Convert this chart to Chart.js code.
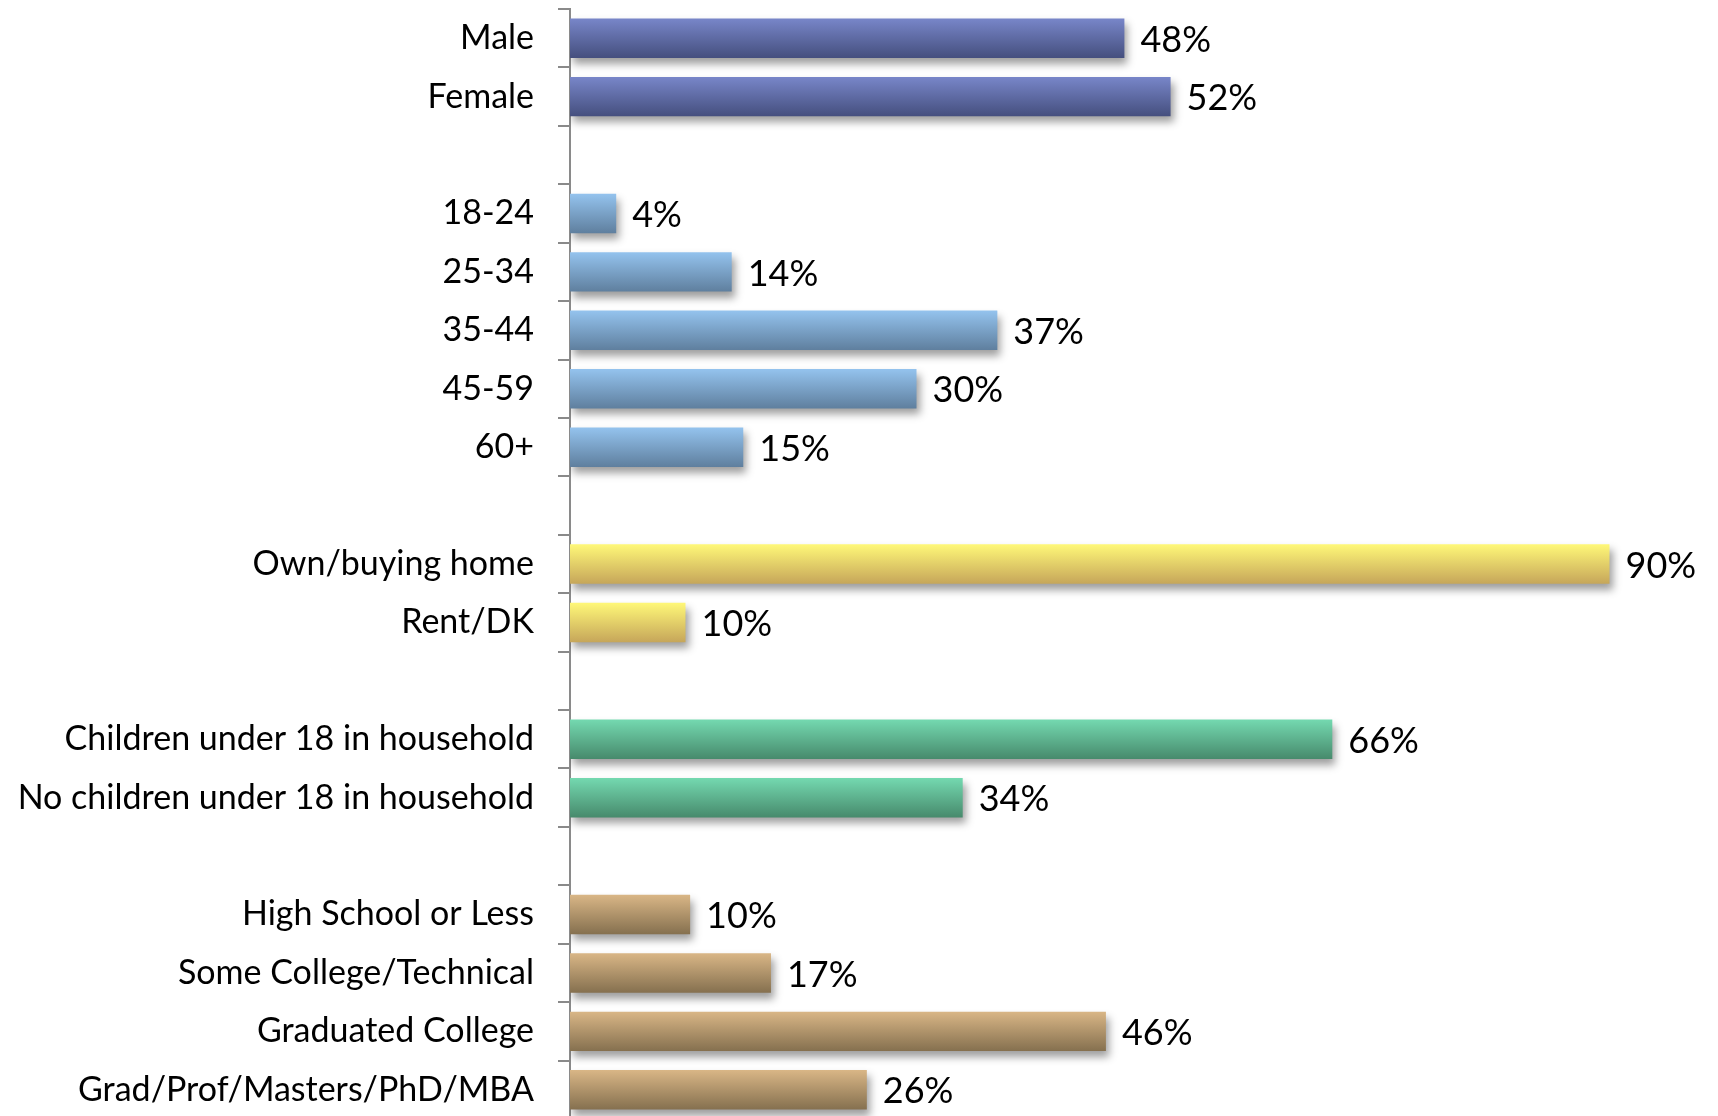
<!DOCTYPE html>
<html>
<head>
<meta charset="utf-8">
<script src="https://cdn.jsdelivr.net/npm/chart.js@4/dist/chart.umd.min.js"></script>
<style>
  html, body { margin: 0; padding: 0; background: #fff; overflow: hidden; }
  #wrap { width: 1726px; height: 1122px; position: relative; }
</style>
</head>
<body>
<div id="wrap"><canvas id="myChart"></canvas></div>
<script>
// data, one small array per group
var genderLabels = ["Male", "Female"];
var genderValues = [48, 52];
var ageLabels = ["18-24", "25-34", "35-44", "45-59", "60+"];
var ageValues = [4, 14, 37, 30, 15];
var homeLabels = ["Own/buying home", "Rent/DK"];
var homeValues = [90, 10];
var kidsLabels = ["Children under 18 in household", "No children under 18 in household"];
var kidsValues = [66, 34];
var eduLabels = ["High School or Less", "Some College/Technical", "Graduated College", "Grad/Prof/Masters/PhD/MBA"];
var eduValues = [10.4, 17.4, 46.4, 25.7];  // bar lengths, labels show rounded

// top / bottom of the gradient for each group
var groupColors = [
  ["#7886c9", "#454f7e"],
  ["#94c3ee", "#5f7f9e"],
  ["#fff878", "#c6a65a"],
  ["#74d9b0", "#478a6c"],
  ["#d9b686", "#85704f"]
];

var barPct = 0.675;

// join the groups, with an empty row between them
var groups = [
  [genderLabels, genderValues],
  [ageLabels, ageValues],
  [homeLabels, homeValues],
  [kidsLabels, kidsValues],
  [eduLabels, eduValues]
];
var categories = [];
var values = [];
var colorIdx = [];
groups.forEach(function (g, gi) {
  if (gi > 0) { categories.push(""); values.push(null); colorIdx.push(null); }
  for (var i = 0; i < g[0].length; i++) {
    categories.push(g[0][i]);
    values.push(g[1][i]);
    colorIdx.push(gi);
  }
});

function barFill(ctx) {
  var pair = groupColors[colorIdx[ctx.dataIndex]];
  if (!pair) return "rgba(0,0,0,0)";
  var chart = ctx.chart;
  var yScale = chart.scales.y;
  if (!chart.chartArea || !yScale) return pair[0];
  var yc = yScale.getPixelForValue(ctx.dataIndex);
  var half = (yScale.getPixelForValue(1) - yScale.getPixelForValue(0)) * barPct / 2;
  var g = chart.ctx.createLinearGradient(0, yc - half, 0, yc + half);
  g.addColorStop(0, pair[0]);
  g.addColorStop(1, pair[1]);
  return g;
}

// soft drop shadow under the bars
var barShadow = {
  id: "barShadow",
  beforeDatasetDraw: function (chart) {
    var c = chart.ctx;
    c.save();
    c.shadowColor = "rgba(0,0,0,0.38)";
    c.shadowBlur = 8;
    c.shadowOffsetX = 3;
    c.shadowOffsetY = 6;
  },
  afterDatasetDraw: function (chart) {
    chart.ctx.restore();
  }
};

// percent labels at the end of each bar
var valueLabels = {
  id: "valueLabels",
  afterDatasetsDraw: function (chart) {
    var c = chart.ctx;
    var meta = chart.getDatasetMeta(0);
    c.save();
    c.font = "36px Lato";
    c.fillStyle = "#000";
    c.textAlign = "left";
    c.textBaseline = "middle";
    meta.data.forEach(function (bar, i) {
      if (values[i] === null) return;
      c.fillText(Math.round(values[i]) + "%", bar.x + 16, bar.y + 2);
    });
    c.restore();
  }
};

function generateChart() {
  var chart = new Chart(document.getElementById("myChart"), {
    type: "bar",
    data: {
      labels: categories,
      datasets: [{
        data: values,
        backgroundColor: barFill,
        borderWidth: 0,
        categoryPercentage: 1,
        barPercentage: barPct
      }]
    },
    options: {
      indexAxis: "y",
      responsive: true,
      maintainAspectRatio: false,
      animation: false,
      layout: { padding: { top: 9, bottom: 3, left: 0, right: 1 } },
      plugins: { legend: { display: false }, tooltip: { enabled: false } },
      scales: {
        x: { display: false, min: 0, max: 100 },
        y: {
          afterFit: function (scale) {
            scale.width = 570;
            // no extra room above/below for the end labels
            scale.paddingTop = 0;
            scale.paddingBottom = 0;
          },
          border: { display: true, color: "#8a8a8a", width: 2 },
          grid: {
            drawOnChartArea: false,
            drawTicks: true,
            tickLength: 12,
            color: "#8a8a8a",
            lineWidth: 2,
            offset: true
          },
          ticks: {
            color: "#000",
            padding: 24,
            font: { family: "Lato", size: 34 }
          }
        }
      }
    },
    plugins: [barShadow, valueLabels]
  });
}

if (document.fonts && document.fonts.load) {
  document.fonts.load("34px Lato").then(generateChart, generateChart);
} else {
  generateChart();
}
</script>
</body>
</html>
